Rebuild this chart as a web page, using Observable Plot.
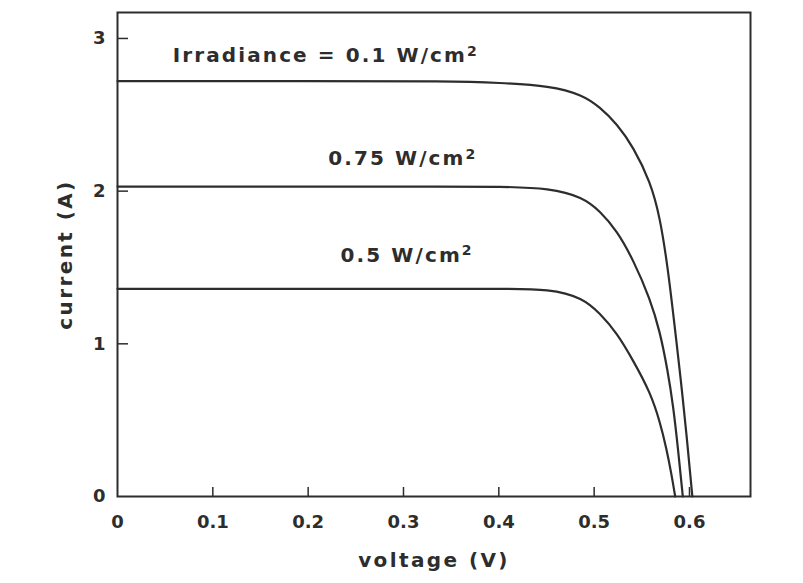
<!DOCTYPE html>
<html><head><meta charset="utf-8">
<script src="https://cdn.jsdelivr.net/npm/d3@7"></script>
<script src="https://cdn.jsdelivr.net/npm/@observablehq/plot@0.6"></script>
<style>
body { margin: 0; background: #fff; }
#chart g[aria-label="text"] text { letter-spacing: 2.1px; }
#chart g[aria-label="x-axis label"] text, #chart g[aria-label="y-axis label"] text { letter-spacing: 2.4px; }
</style>
</head><body><div id="chart"></div><script>
// Irradiance = 0.1 W/cm2 (top curve)
const vTop = [0, 0.2, 0.35, 0.40, 0.454, 0.488, 0.506, 0.524, 0.541, 0.559, 0.569, 0.577, 0.584, 0.591, 0.597, 0.603];
const iTop = [2.72, 2.72, 2.72, 2.71, 2.69, 2.63, 2.55, 2.44, 2.29, 2.06, 1.83, 1.51, 1.14, 0.76, 0.40, 0];
// 0.75 W/cm2 (middle curve)
const vMid = [0, 0.2, 0.35, 0.40, 0.454, 0.488, 0.506, 0.524, 0.541, 0.559, 0.569, 0.577, 0.583, 0.588, 0.593];
const iMid = [2.03, 2.03, 2.03, 2.03, 2.02, 1.96, 1.87, 1.74, 1.55, 1.29, 1.08, 0.83, 0.59, 0.31, 0];
// 0.5 W/cm2 (bottom curve)
const vLow = [0, 0.2, 0.35, 0.40, 0.454, 0.488, 0.506, 0.524, 0.541, 0.559, 0.569, 0.576, 0.581, 0.585];
const iLow = [1.36, 1.36, 1.36, 1.36, 1.36, 1.30, 1.20, 1.07, 0.89, 0.68, 0.49, 0.31, 0.15, 0];

const seriesNames = ["Irradiance = 0.1 W/cm²", "0.75 W/cm²", "0.5 W/cm²"];
const labelV = [0.058, 0.221, 0.234];
const labelI = [2.885, 2.21, 1.58];

const xTicks = [0, 0.1, 0.2, 0.3, 0.4, 0.5, 0.6];
const yTicks = [0, 1, 2, 3];

const series = [[vTop, iTop], [vMid, iMid], [vLow, iLow]];
const points = series.flatMap(([vs, is], k) => vs.map((v, j) => ({series: seriesNames[k], v, i: is[j]})));
const labels = seriesNames.map((name, k) => ({name, v: labelV[k], i: labelI[k]}));

const W = 803, H = 583, mT = 12, mB = 87, mL = 117, mR = 53;
const plotH = H - mT - mB, plotW = W - mL - mR;
const ink = "#2d2d2d";

const chart = Plot.plot({
  width: W, height: H,
  marginTop: mT, marginBottom: mB, marginLeft: mL, marginRight: mR,
  style: {fontFamily: "'DejaVu Sans', 'Liberation Sans', sans-serif", fontSize: "18px", fontWeight: "bold", color: ink, background: "#fff"},
  x: {domain: [0, 0.664]},
  y: {domain: [0, 3.17]},
  marks: [
    Plot.ruleX(xTicks.slice(1), {stroke: ink, strokeWidth: 1.5, insetTop: plotH - 9}),
    Plot.ruleY(yTicks.slice(1), {stroke: ink, strokeWidth: 1.5, insetRight: plotW - 11}),
    Plot.axisX({ticks: xTicks, tickSize: 0, tickPadding: 19, tickFormat: d => String(d),
      label: "voltage (V)", labelAnchor: "center", labelArrow: "none", labelOffset: 70, fontSize: 18}),
    Plot.axisY({ticks: yTicks, tickSize: 0, tickPadding: 12, tickFormat: d => String(d),
      label: "current (A)", labelAnchor: "center", labelArrow: "none", labelOffset: 60, fontSize: 18}),
    Plot.line(points, {x: "v", y: "i", z: "series", curve: "basis", stroke: ink, strokeWidth: 2.2}),
    Plot.text(labels, {x: "v", y: "i", text: "name", textAnchor: "start", lineAnchor: "middle", fontSize: 20, fontWeight: "bold", fill: ink}),
    Plot.frame({stroke: ink, strokeWidth: 2})
  ]
});
document.getElementById("chart").appendChild(chart);
// axis labels slightly larger than tick labels
chart.querySelectorAll('g[aria-label="x-axis label"] text, g[aria-label="y-axis label"] text').forEach(t => t.setAttribute("font-size", 20));
// render the superscript "2" at a readable size, as in the original
chart.querySelectorAll('g[aria-label="text"] text').forEach(t => {
  const s = t.textContent;
  if (s.endsWith("²")) {
    t.textContent = s.slice(0, -1);
    const sup = document.createElementNS("http://www.w3.org/2000/svg", "tspan");
    sup.setAttribute("font-size", "14");
    sup.setAttribute("dy", "-0.45em");
    sup.textContent = "2";
    t.appendChild(sup);
  }
});
</script></body></html>
